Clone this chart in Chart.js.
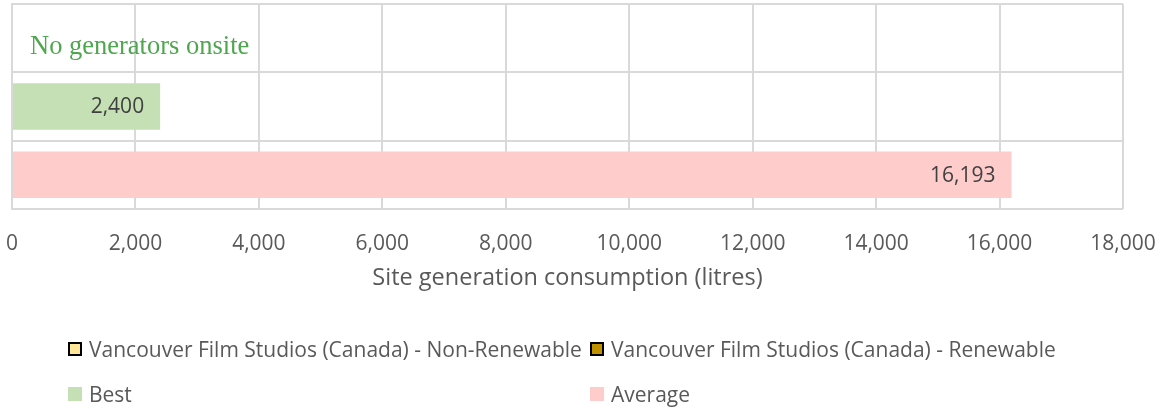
<!DOCTYPE html>
<html>
<head>
<meta charset="utf-8">
<script src="https://cdn.jsdelivr.net/npm/chart.js@4/dist/chart.umd.min.js"></script>
<style>
  body { margin: 0; background: #fff; }
  #wrap { position: relative; width: 1167px; height: 409px; }
  #legend { position: absolute; left: 0; top: 0; width: 1167px; height: 409px; pointer-events: none;
    font-family: "Open Sans", sans-serif; font-size: 21px; color: #595959; }
  .item { position: absolute; display: flex; align-items: center; white-space: nowrap; }
  .box { width: 14px; height: 14px; box-sizing: border-box; margin-right: 7px; }
</style>
</head>
<body>
<div id="wrap">
  <canvas id="chart" width="1167" height="409"></canvas>
  <div id="legend"></div>
</div>
<script>
// data
var categories = ['Vancouver Film Studios (Canada)', 'Best', 'Average'];
var seriesNames = ['Vancouver Film Studios (Canada) - Non-Renewable', 'Vancouver Film Studios (Canada) - Renewable', 'Best', 'Average'];
var nonRenewable = [0, null, null];
var renewable = [0, null, null];
var best = [null, 2400, null];
var average = [null, null, 16193];
var xTicks = [0, 2000, 4000, 6000, 8000, 10000, 12000, 14000, 16000, 18000];
var note = 'No generators onsite';

var colors = ['#FFE699', '#BF9000', '#C5E0B4', '#FFCCCC'];
var borders = ['#000000', '#000000', null, null];
var textColor = '#595959';

function fmt(v) { return v.toLocaleString('en-US'); }

var labelPlugin = {
  id: 'barLabels',
  afterDatasetsDraw: function (chart) {
    var c = chart.ctx;
    c.save();
    c.font = '21px "Open Sans", sans-serif';
    c.fillStyle = '#404040';
    c.textAlign = 'right';
    c.textBaseline = 'middle';
    chart.data.datasets.forEach(function (ds, i) {
      var meta = chart.getDatasetMeta(i);
      meta.data.forEach(function (bar, j) {
        var v = ds.data[j];
        if (v) c.fillText(fmt(v), bar.x - 16, bar.y + 1);
      });
    });
    // note for the site row
    var y0 = chart.scales.y.getPixelForValue(0);
    c.font = '26.5px "Liberation Serif", serif';
    c.fillStyle = '#4EA64E';
    c.textAlign = 'left';
    c.textBaseline = 'alphabetic';
    c.fillText(note, chart.chartArea.left + 18, y0 + 15.5);
    c.restore();
  }
};

var data = [nonRenewable, renewable, best, average];
var ctx = document.getElementById('chart').getContext('2d');
var chart = new Chart(ctx, {
  type: 'bar',
  data: {
    labels: categories,
    datasets: data.map(function (d, i) {
      return {
        label: seriesNames[i],
        data: d,
        backgroundColor: colors[i],
        categoryPercentage: 1,
        barPercentage: 0.68
      };
    })
  },
  options: {
    indexAxis: 'y',
    responsive: false,
    animation: false,
    layout: { padding: { left: 12, right: 44, top: 4, bottom: 117 } },
    plugins: { legend: { display: false }, tooltip: { enabled: false } },
    scales: {
      x: {
        stacked: true,
        min: 0,
        max: 18000,
        afterBuildTicks: function (s) { s.ticks = xTicks.map(function (v) { return { value: v }; }); },
        afterFit: function (s) { s.height = 83; s.paddingLeft = 0; s.paddingRight = 0; },
        ticks: { color: textColor, font: { family: 'Open Sans', size: 21 }, padding: 22,
          callback: function (v) { return fmt(v); } },
        grid: { color: '#D9D9D9', lineWidth: 2, drawTicks: false },
        border: { display: false },
        title: { display: true, text: 'Site generation consumption (litres)', color: textColor,
          font: { family: 'Open Sans', size: 23.5 }, padding: 0 }
      },
      y: {
        stacked: true,
        afterFit: function (s) { s.width = 0; },
        ticks: { display: false },
        grid: { color: '#D9D9D9', lineWidth: 2, drawTicks: false },
        border: { color: '#D9D9D9', width: 2 }
      }
    }
  },
  plugins: [labelPlugin]
});

// legend
var legendPos = [[68, 349], [590, 349], [68, 394], [590, 394]];
var lg = document.getElementById('legend');
seriesNames.forEach(function (name, i) {
  var it = document.createElement('div');
  it.className = 'item';
  it.style.left = legendPos[i][0] + 'px';
  it.style.top = (legendPos[i][1] - 14) + 'px';
  it.style.height = '28px';
  var b = document.createElement('span');
  b.className = 'box';
  b.style.background = colors[i];
  if (borders[i]) b.style.border = '2px solid ' + borders[i];
  var t = document.createElement('span');
  t.textContent = name;
  it.appendChild(b);
  it.appendChild(t);
  lg.appendChild(it);
});
</script>
</body>
</html>
